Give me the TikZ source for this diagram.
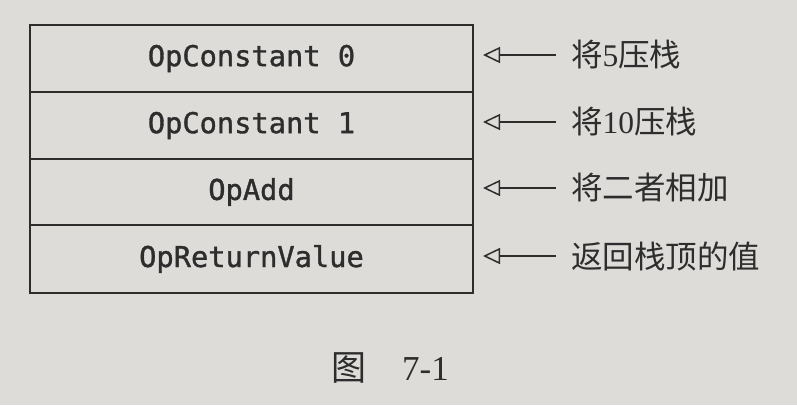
\documentclass[tikz,border=0pt]{standalone}
\usepackage{fontspec}
\setmainfont{Liberation Serif}
\newfontfamily\cjk{Noto Sans CJK SC}
\newfontfamily\codefont[FakeBold=1.2]{DejaVu Sans Mono}
\usetikzlibrary{arrows.meta}
\definecolor{paper}{RGB}{221,220,217}
\definecolor{ink}{RGB}{45,45,45}
\begin{document}
\begin{tikzpicture}[x=1pt,y=-1pt,
  cell/.style={draw=ink,line width=1.6pt,minimum width=443pt,minimum height=67pt,inner sep=0pt,
    font=\codefont\fontsize{28.7}{32}\selectfont,text=ink},
  lbl/.style={anchor=west,inner sep=0pt,font=\fontsize{31.5}{35}\selectfont,text=ink},
  pointer/.style={draw=ink,line width=1.5pt,-{Triangle[open,length=17pt,width=16pt,line width=1.5pt]}}]
\fill[paper] (0,0) rectangle (797,405);
\useasboundingbox (0,0) rectangle (797,405);
\node[cell] (c1) at (251.5,58.5) {OpConstant 0};
\node[cell] (c2) at (251.5,125.5) {OpConstant 1};
\node[cell] (c3) at (251.5,192) {OpAdd};
\node[cell,minimum height=68pt] (c4) at (251.5,259) {OpReturnValue};
\foreach \i/\y/\t in {1/55/{{\cjk 将}5{\cjk 压栈}},2/122/{{\cjk 将}10{\cjk 压栈}},3/188/{\cjk 将二者相加},4/256/{\cjk 返回栈顶的值}}{
  \coordinate (t\i) at (556,\y);
  \coordinate (h\i) at (483,\y);
  \draw[pointer] (t\i) -- (h\i);
  \node[lbl] (l\i) at (571,\y) {\t};
}
\node[font=\fontsize{35}{38}\selectfont,text=ink] (cap) at (390,368) {{\cjk 图}\hspace{36pt}7-1};
\end{tikzpicture}
\end{document}
